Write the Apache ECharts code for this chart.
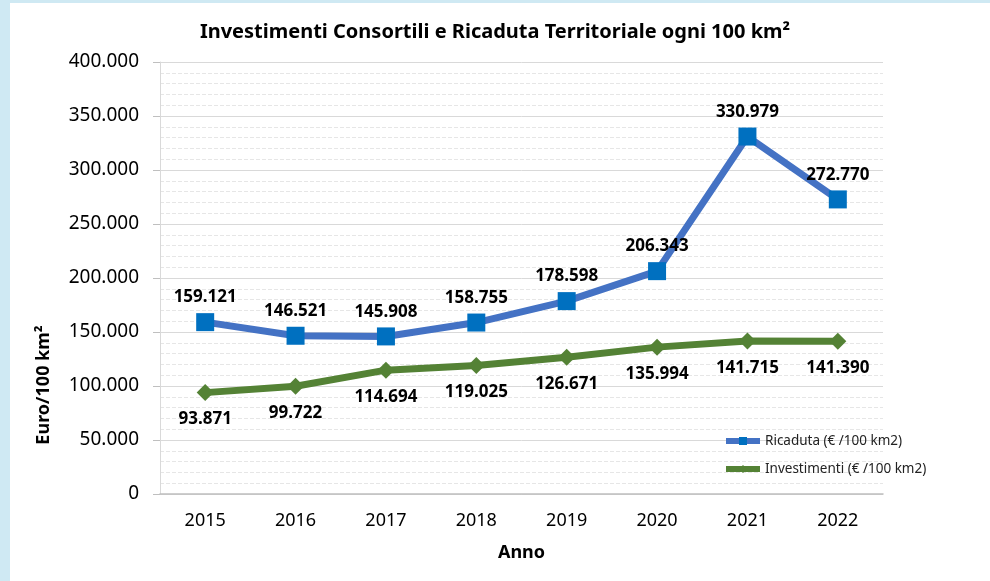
<!DOCTYPE html>
<html>
<head>
<meta charset="utf-8">
<script src="https://cdn.jsdelivr.net/npm/echarts@6/dist/echarts.min.js"></script>
<style>
  html, body { margin: 0; padding: 0; background: #cfe9f3; }
  #main { width: 990px; height: 581px; }
</style>
</head>
<body>
<div id="main"></div>
<script>
// anni
var anni = ["2015", "2016", "2017", "2018", "2019", "2020", "2021", "2022"];
// Ricaduta (€ /100 km2)
var ricaduta = [159121, 146521, 145908, 158755, 178598, 206343, 330979, 272770];
// Investimenti (€ /100 km2)
var investimenti = [93871, 99722, 114694, 119025, 126671, 135994, 141715, 141390];

function fmt(v) {
  return String(Math.round(v)).replace(/\B(?=(\d{3})+(?!\d))/g, ".");
}

var myChart = echarts.init(document.getElementById("main"));
var font = "'Noto Sans', 'DejaVu Sans', sans-serif";

var option = {
  backgroundColor: "#cfe9f3",
  textStyle: { fontFamily: font },
  graphic: [
    {
      type: "rect",
      z: -10,
      shape: { x: 10, y: 3, width: 980, height: 578 },
      style: { fill: "#ffffff" }
    },
    {
      type: "text",
      x: 44,
      y: 385,
      rotation: Math.PI / 2,
      style: {
        text: "Euro/100 km²",
        font: "bold 18px " + font,
        fill: "#000",
        align: "center",
        verticalAlign: "middle"
      }
    }
  ],
  title: {
    text: "Investimenti Consortili e Ricaduta Territoriale ogni 100 km²",
    left: "center",
    top: 17,
    textStyle: { fontSize: 20, fontWeight: "bold", color: "#000", fontFamily: font }
  },
  legend: {
    orient: "vertical",
    left: 718,
    top: 429,
    itemWidth: 34,
    itemHeight: 10,
    itemGap: 14,
    textStyle: { fontSize: 13.5, color: "#222" },
    lineStyle: { width: 6 },
    data: ["Ricaduta (€ /100 km2)", "Investimenti (€ /100 km2)"]
  },
  grid: { left: 160, right: 107, top: 62, bottom: 87 },
  xAxis: {
    type: "category",
    data: anni,
    name: "Anno",
    nameLocation: "middle",
    nameGap: 50,
    nameTextStyle: { fontSize: 18, fontWeight: "bold", color: "#000" },
    axisLine: { lineStyle: { color: "#bfbfbf", width: 1.5 } },
    axisTick: { show: false },
    axisLabel: { fontSize: 18, color: "#000", margin: 18 }
  },
  yAxis: {
    type: "value",
    min: 0,
    max: 400000,
    interval: 50000,
    axisLine: { show: true, lineStyle: { color: "#d9d9d9" } },
    axisTick: { show: true, length: 7, lineStyle: { color: "#bfbfbf" } },
    axisLabel: { fontSize: 19, color: "#000", margin: 21, formatter: fmt },
    splitLine: { lineStyle: { color: "#d9d9d9", width: 1 } },
    minorTick: { show: false, splitNumber: 5 },
    minorSplitLine: { show: true, lineStyle: { color: "#e6e6e6", type: "dashed", width: 1 } }
  },
  series: [
    {
      name: "Ricaduta (€ /100 km2)",
      type: "line",
      data: ricaduta,
      symbol: "rect",
      symbolSize: 18,
      lineStyle: { color: "#4472C4", width: 7 },
      itemStyle: { color: "#0070C0" },
      label: {
        show: true,
        position: "top",
        distance: 7,
        fontSize: 17,
        fontWeight: "bold",
        color: "#000",
        formatter: function (p) { return fmt(p.value); }
      },
      z: 3
    },
    {
      name: "Investimenti (€ /100 km2)",
      type: "line",
      data: investimenti,
      symbol: "diamond",
      symbolSize: 17,
      lineStyle: { color: "#548235", width: 7 },
      itemStyle: { color: "#548235" },
      label: {
        show: true,
        position: "bottom",
        distance: 10,
        fontSize: 17,
        fontWeight: "bold",
        color: "#000",
        formatter: function (p) { return fmt(p.value); }
      },
      z: 2
    }
  ]
};

myChart.setOption(option);
</script>
</body>
</html>
